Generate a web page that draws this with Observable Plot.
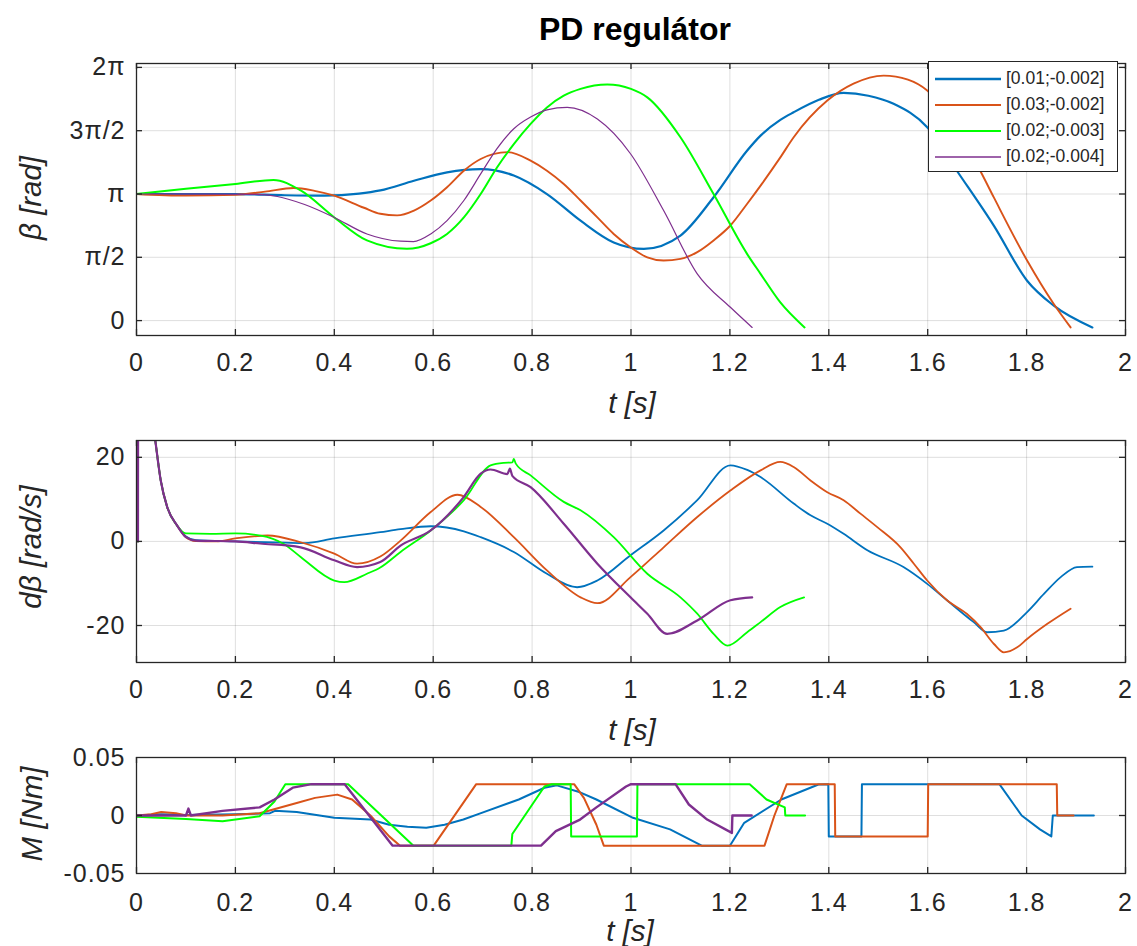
<!DOCTYPE html>
<html><head><meta charset="utf-8">
<script src="https://cdn.jsdelivr.net/npm/d3@7"></script>
<script src="https://cdn.jsdelivr.net/npm/@observablehq/plot@0.6"></script>
<style>
body{margin:0;background:#fff;}
#chart{position:relative;width:1137px;height:946px;font-family:"Liberation Sans",Arial,sans-serif;color:#262626;overflow:hidden;}
.panel{position:absolute;left:0;}
.lbl{position:absolute;white-space:nowrap;transform:translate(-50%,-50%);}
.ylbl{position:absolute;white-space:nowrap;transform:translate(-50%,-50%) rotate(-90deg);}
#legend{position:absolute;left:928px;top:61px;width:188px;height:109px;border:1px solid #262626;background:#fff;}
.lrow{position:absolute;left:0;height:26px;width:188px;}
.lrow svg{position:absolute;left:6px;top:0;}
.lrow span{position:absolute;left:77px;top:2px;font-size:17.5px;color:#262626;}
</style></head><body><div id="chart"></div><script>
// ---------- series meta ----------
const seriesNames = ["[0.01;-0.002]", "[0.03;-0.002]", "[0.02;-0.003]", "[0.02;-0.004]"];
const seriesColors = ["#0072BD", "#D95319", "#00FF00", "#7E2F8E"];

// ---------- ticks ----------
const xTicks = [0, 0.2, 0.4, 0.6, 0.8, 1, 1.2, 1.4, 1.6, 1.8, 2];
const xTickLabels = ["0", "0.2", "0.4", "0.6", "0.8", "1", "1.2", "1.4", "1.6", "1.8", "2"];
const betaTicks = [0, Math.PI / 2, Math.PI, 3 * Math.PI / 2, 2 * Math.PI];
const betaTickLabels = ["0", "π/2", "π", "3π/2", "2π"];
const dBetaTicks = [-20, 0, 20];
const dBetaTickLabels = ["-20", "0", "20"];
const mTicks = [-0.05, 0, 0.05];
const mTickLabels = ["-0.05", "0", "0.05"];

// ---------- beta [rad] : [t, value] ----------
const betaBlue = [[0,3.1416],[0.1,3.14],[0.2,3.14],[0.3,3.11],[0.38,3.10],[0.45,3.15],[0.493,3.23],[0.561,3.47],[0.628,3.68],[0.696,3.76],[0.763,3.60],[0.83,3.14],[0.898,2.48],[0.965,1.94],[1.026,1.78],[1.1,2.11],[1.167,3.06],[1.235,4.22],[1.262,4.59],[1.302,4.98],[1.329,5.17],[1.38,5.48],[1.43,5.65],[1.48,5.58],[1.531,5.38],[1.599,4.80],[1.66,3.70],[1.734,2.35],[1.801,0.99],[1.855,0.37],[1.933,-0.17]];
const betaOrange = [[0,3.1416],[0.1,3.10],[0.2,3.12],[0.26,3.2],[0.318,3.29],[0.36,3.22],[0.4,3.10],[0.46,2.80],[0.493,2.65],[0.527,2.61],[0.561,2.73],[0.595,2.98],[0.628,3.31],[0.662,3.72],[0.696,4.01],[0.75,4.18],[0.797,3.97],[0.83,3.72],[0.864,3.39],[0.898,2.98],[0.932,2.56],[0.965,2.15],[0.999,1.82],[1.033,1.57],[1.066,1.49],[1.1,1.53],[1.134,1.70],[1.167,1.99],[1.201,2.36],[1.235,2.90],[1.265,3.40],[1.302,4.05],[1.329,4.55],[1.397,5.46],[1.45,5.88],[1.511,6.08],[1.56,5.98],[1.599,5.71],[1.65,4.95],[1.707,3.70],[1.734,3.05],[1.801,1.49],[1.855,0.41],[1.889,-0.17]];
const betaGreen = [[0,3.1416],[0.1,3.27],[0.2,3.39],[0.277,3.49],[0.332,3.23],[0.4,2.56],[0.466,1.99],[0.547,1.78],[0.595,1.92],[0.628,2.15],[0.662,2.56],[0.696,3.14],[0.729,3.80],[0.763,4.38],[0.797,4.88],[0.83,5.29],[0.864,5.58],[0.898,5.75],[0.952,5.86],[1.0,5.75],[1.033,5.54],[1.1,4.55],[1.167,3.14],[1.235,1.65],[1.262,1.16],[1.302,0.45],[1.351,-0.17]];
const betaPurple = [[0,3.1416],[0.15,3.14],[0.24,3.13],[0.285,3.08],[0.34,2.88],[0.4,2.56],[0.466,2.15],[0.534,1.97],[0.56,1.96],[0.595,2.15],[0.628,2.48],[0.662,2.98],[0.696,3.64],[0.729,4.27],[0.763,4.76],[0.797,5.05],[0.83,5.23],[0.871,5.29],[0.932,5.0],[0.999,4.14],[1.066,2.73],[1.134,1.16],[1.201,0.33],[1.245,-0.17]];

// ---------- d beta [rad/s] ----------
const dBetaStart = [[0.003,0],[0.0035,60],[0.02,40],[0.038,24],[0.049,14.5],[0.062,8.2],[0.082,3.8]];
const dBetaBlue = [[0.1,1.2],[0.12,0.3],[0.2,0.0],[0.3,-0.3],[0.34,-0.4],[0.4,0.7],[0.493,2.2],[0.534,2.9],[0.595,3.6],[0.662,2.4],[0.696,1.0],[0.763,-2.5],[0.83,-7.7],[0.891,-10.9],[0.932,-9.3],[0.999,-3.3],[1.066,2.6],[1.134,9.8],[1.201,18.1],[1.235,17.0],[1.262,15.3],[1.329,9.0],[1.363,6.2],[1.397,4.2],[1.43,1.8],[1.478,-2.1],[1.551,-6.1],[1.599,-10.1],[1.639,-14.0],[1.693,-19.2],[1.72,-21.6],[1.754,-21.2],[1.801,-16.8],[1.835,-12.5],[1.869,-8.5],[1.902,-6.1],[1.933,-6.0]];
const dBetaOrange = [[0.1,1.0],[0.12,0.1],[0.16,0.0],[0.2,0.7],[0.265,1.4],[0.332,-0.2],[0.4,-2.9],[0.446,-5.3],[0.493,-3.6],[0.534,0.2],[0.595,7.0],[0.649,11.1],[0.696,8.2],[0.763,1.0],[0.83,-6.9],[0.898,-13.3],[0.932,-14.7],[0.999,-8.5],[1.066,-1.4],[1.134,5.8],[1.201,12.1],[1.262,16.9],[1.302,18.9],[1.329,17.7],[1.363,14.5],[1.397,11.7],[1.43,9.8],[1.464,6.6],[1.498,3.4],[1.545,-1.4],[1.572,-5.3],[1.599,-9.3],[1.639,-14.0],[1.679,-17.2],[1.707,-20.4],[1.734,-24.4],[1.754,-26.4],[1.781,-25.2],[1.801,-23.2],[1.842,-19.6],[1.889,-16.0]];
const dBetaGreen = [[0.1,1.9],[0.15,1.8],[0.2,1.9],[0.251,1.4],[0.298,-0.6],[0.332,-3.7],[0.4,-9.3],[0.42,-9.7],[0.466,-7.7],[0.493,-6.2],[0.534,-2.5],[0.595,2.6],[0.662,9.8],[0.716,18.1],[0.743,18.7],[0.76,18.8],[0.763,19.6],[0.767,18.5],[0.797,15.7],[0.864,9.4],[0.898,7.4],[0.965,1.0],[1.033,-7.7],[1.1,-13.3],[1.134,-17.2],[1.167,-22.0],[1.195,-24.8],[1.235,-21.6],[1.262,-19.2],[1.302,-15.6],[1.35,-13.3]];
const dBetaPurple = [[0.1,1.0],[0.12,0.2],[0.2,0.0],[0.25,-0.5],[0.332,-1.4],[0.4,-4.5],[0.446,-6.1],[0.493,-4.9],[0.534,-1.0],[0.595,2.6],[0.662,10.6],[0.696,16.1],[0.716,17.1],[0.75,16.0],[0.755,17.3],[0.76,15.6],[0.797,12.9],[0.864,4.2],[0.932,-5.3],[0.999,-13.3],[1.033,-17.2],[1.073,-22.0],[1.134,-18.8],[1.201,-14.0],[1.245,-13.3]];

// ---------- M [Nm] ----------
const mBlue = [[0,0],[0.05,0.001],[0.1,0.0005],[0.2,0.001],[0.27,0.002],[0.28,0.004],[0.324,0.003],[0.4,-0.002],[0.473,-0.0035],[0.511,-0.008],[0.548,-0.0098],[0.586,-0.0106],[0.623,-0.008],[0.661,-0.0035],[0.698,0.0023],[0.773,0.0138],[0.825,0.0239],[0.85,0.026],[0.897,0.02],[0.93,0.0138],[1.004,-0.002],[1.079,-0.012],[1.143,-0.026],[1.2,-0.026],[1.229,-0.0063],[1.304,0.0138],[1.379,0.0267],[1.399,0.027],[1.4,-0.018],[1.466,-0.018],[1.467,0.027],[1.745,0.027],[1.79,0],[1.827,-0.012],[1.85,-0.018],[1.853,0],[1.936,0]];
const mOrange = [[0,0],[0.03,0.001],[0.05,0.003],[0.08,0.002],[0.1,0],[0.174,0],[0.249,0.002],[0.324,0.0108],[0.361,0.0152],[0.406,0.018],[0.436,0.0138],[0.473,0],[0.511,-0.018],[0.533,-0.026],[0.601,-0.026],[0.687,0.027],[0.885,0.027],[0.905,0.015],[0.93,-0.008],[0.945,-0.026],[1.27,-0.026],[1.29,0],[1.315,0.027],[1.412,0.027],[1.413,-0.018],[1.6,-0.018],[1.601,0.027],[1.861,0.027],[1.862,0],[1.895,0]];
const mGreen = [[0,-0.001],[0.1,-0.003],[0.174,-0.005],[0.249,-0.0006],[0.279,0.012],[0.301,0.027],[0.428,0.027],[0.56,-0.026],[0.758,-0.026],[0.76,-0.016],[0.825,0.025],[0.84,0.027],[0.878,0.027],[0.879,-0.018],[1.012,-0.018],[1.013,0.027],[1.24,0.027],[1.274,0.0138],[1.311,0.007],[1.312,0],[1.352,0]];
const mPurple = [[0,0],[0.1,0],[0.105,0.006],[0.11,0],[0.174,0.004],[0.249,0.007],[0.279,0.0138],[0.316,0.024],[0.354,0.027],[0.421,0.027],[0.518,-0.026],[0.818,-0.026],[0.848,-0.0135],[0.897,-0.0035],[0.93,0.007],[0.99,0.025],[1.0,0.027],[1.09,0.027],[1.117,0.0095],[1.154,-0.0035],[1.204,-0.015],[1.205,0],[1.244,0]];

// ---------- build ----------
const chart = document.getElementById("chart");
const FONT = '"Liberation Sans", Arial, sans-serif';
const INK = "#262626";

function panel({top, height, mt, mb, yDomain, yTicks, yLabels, series, widths, curve, xPad}) {
  const frameH = height - mt - mb;
  const frameW = 1137 - 136 - 12;
  const ly = (yDomain[1] - yDomain[0]) * 6 / frameH;
  const lx = 2 * 6 / frameW;
  const inner = yTicks.filter(v => v > yDomain[0] && v < yDomain[1]);
  const marks = [
    Plot.gridX(xTicks, {stroke: INK, strokeOpacity: 0.15}),
    Plot.gridY(yTicks, {stroke: INK, strokeOpacity: 0.15}),
    Plot.axisX(xTicks, {tickSize: 0, tickPadding: xPad, tickFormat: (d) => xTickLabels[xTicks.indexOf(d)], fontSize: 25, label: null, fill: INK}),
    Plot.axisY(yTicks, {tickSize: 0, tickPadding: 11, tickFormat: (d) => yLabels[yTicks.indexOf(d)], fontSize: 25, label: null, fill: INK}),
  ];
  series.forEach((data, i) => {
    marks.push(Plot.line(data, {x: d => d[0], y: d => d[1], stroke: seriesColors[i], strokeWidth: widths[i], curve, clip: true, strokeLinejoin: "round"}));
  });
  marks.push(
    Plot.ruleX(xTicks, {x: d => d, y1: yDomain[0], y2: yDomain[0] + ly, stroke: INK, strokeWidth: 1.3}),
    Plot.ruleX(xTicks, {x: d => d, y1: yDomain[1] - ly, y2: yDomain[1], stroke: INK, strokeWidth: 1.3}),
    Plot.ruleY(inner, {y: d => d, x1: 0, x2: lx, stroke: INK, strokeWidth: 1.3}),
    Plot.ruleY(inner, {y: d => d, x1: 2 - lx, x2: 2, stroke: INK, strokeWidth: 1.3}),
    Plot.frame({stroke: INK, strokeWidth: 1.3})
  );
  const svg = Plot.plot({
    width: 1137, height,
    marginTop: mt, marginBottom: mb, marginLeft: 136, marginRight: 12,
    x: {domain: [0, 2]},
    y: {domain: yDomain},
    style: {fontFamily: FONT, fontSize: "25px", color: INK, background: "transparent", overflow: "visible", letterSpacing: "1px"},
    marks
  });
  svg.classList.add("panel");
  svg.style.top = top + "px";
  chart.appendChild(svg);
}

panel({top: 0, height: 420, mt: 63, mb: 85, yDomain: [-0.37, 6.38], yTicks: betaTicks, yLabels: betaTickLabels,
  series: [betaBlue, betaOrange, betaGreen, betaPurple], widths: [2.2, 1.9, 2, 1.2], curve: "monotone-x", xPad: 18});
panel({top: 420, height: 302, mt: 20, mb: 60, yDomain: [-28.8, 24], yTicks: dBetaTicks, yLabels: dBetaTickLabels,
  series: [dBetaStart.concat(dBetaBlue), dBetaStart.concat(dBetaOrange), dBetaStart.concat(dBetaGreen), dBetaStart.concat(dBetaPurple)],
  widths: [1.8, 1.8, 1.8, 2.2], curve: "monotone-x", xPad: 18});
panel({top: 722, height: 224, mt: 35, mb: 73, yDomain: [-0.05, 0.05], yTicks: mTicks, yLabels: mTickLabels,
  series: [mBlue, mOrange, mGreen, mPurple], widths: [2, 2, 2, 2.4], curve: "linear", xPad: 20});

// ---------- text ----------
function addText(cls, txt, x, y, css) {
  const d = document.createElement("div");
  d.className = cls; d.textContent = txt;
  d.style.left = x + "px"; d.style.top = y + "px";
  Object.assign(d.style, css || {});
  chart.appendChild(d);
}
const titleText = "PD regulátor";
const xLabelText = "t [s]";
const yLabelTexts = ["β [rad]", "dβ [rad/s]", "M [Nm]"];
const labelCss = {fontStyle: "italic", fontSize: "29.5px"};
addText("lbl", titleText, 635, 29, {fontWeight: "bold", fontSize: "32px", color: "#000"});
addText("lbl", xLabelText, 632, 403, labelCss);
addText("lbl", xLabelText, 632, 730, labelCss);
addText("lbl", xLabelText, 630, 931, labelCss);
addText("ylbl", yLabelTexts[0], 31, 198, labelCss);
addText("ylbl", yLabelTexts[1], 31, 547, labelCss);
addText("ylbl", yLabelTexts[2], 32, 814, labelCss);

// ---------- legend ----------
const legend = document.createElement("div");
legend.id = "legend";
const legendWidths = [2.6, 2, 2, 1.3];
seriesNames.forEach((name, i) => {
  const row = document.createElement("div");
  row.className = "lrow";
  row.style.top = (4 + i * 26) + "px";
  row.innerHTML = `<svg width="68" height="26"><line x1="0" x2="66" y1="13" y2="13" stroke="${seriesColors[i]}" stroke-width="${legendWidths[i]}"/></svg><span></span>`;
  row.querySelector("span").textContent = name;
  legend.appendChild(row);
});
chart.appendChild(legend);
</script></body></html>
